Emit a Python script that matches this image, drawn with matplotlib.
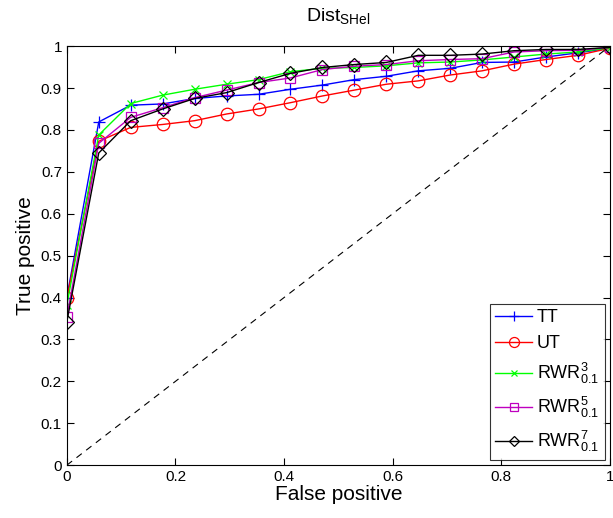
import numpy as np
import matplotlib
matplotlib.use('Agg')
import matplotlib.pyplot as plt

plt.rcParams['font.family'] = 'Liberation Sans'
plt.rcParams['mathtext.fontset'] = 'custom'
plt.rcParams['mathtext.rm'] = 'Liberation Sans'
plt.rcParams['mathtext.it'] = 'Liberation Sans'

fpr = np.arange(18) / 17.0

tt    = [0.400, 0.819, 0.859, 0.862, 0.875, 0.881, 0.885, 0.897, 0.907, 0.920,
         0.928, 0.941, 0.947, 0.961, 0.962, 0.974, 0.984, 0.995]
ut    = [0.398, 0.773, 0.806, 0.813, 0.822, 0.838, 0.850, 0.865, 0.881, 0.895,
         0.909, 0.917, 0.931, 0.941, 0.957, 0.968, 0.978, 0.995]
rwr3  = [0.382, 0.788, 0.863, 0.883, 0.897, 0.909, 0.920, 0.939, 0.947, 0.949,
         0.953, 0.960, 0.962, 0.967, 0.974, 0.981, 0.986, 0.996]
rwr5  = [0.354, 0.768, 0.830, 0.853, 0.877, 0.895, 0.913, 0.924, 0.944, 0.952,
         0.956, 0.965, 0.968, 0.970, 0.986, 0.989, 0.990, 0.997]
rwr7  = [0.342, 0.745, 0.822, 0.850, 0.875, 0.889, 0.913, 0.935, 0.949, 0.956,
         0.961, 0.978, 0.978, 0.981, 0.989, 0.992, 0.992, 0.997]

series = [tt, ut, rwr3, rwr5, rwr7]
labels = ['TT', 'UT', r'RWR$^{3}_{0.1}$', r'RWR$^{5}_{0.1}$', r'RWR$^{7}_{0.1}$']
colors = ['b', 'r', '#00ff00', 'm', 'k']
markers = ['+', 'o', 'x', 's', 'D']
msizes = [9, 9, 6, 7, 7]

fig = plt.figure(figsize=(6.13, 5.18), dpi=100)
ax = fig.add_axes([0.109, 0.102, 0.886, 0.809])

for y, lab, c, m, ms in zip(series, labels, colors, markers, msizes):
    ax.plot(fpr, y, color=c, marker=m, markersize=ms, markerfacecolor='none',
            markeredgecolor=c, markeredgewidth=0.9, linewidth=1, label=lab)
ax.plot([0, 1], [0, 1], 'k--', linewidth=0.8, dashes=(6, 5))

ax.set_xlim(0, 1)
ax.set_ylim(0, 1)
ax.set_xticks([0, 0.2, 0.4, 0.6, 0.8, 1])
ax.set_xticklabels(['0', '0.2', '0.4', '0.6', '0.8', '1'])
ax.set_yticks(np.arange(0, 1.01, 0.1))
ax.set_yticklabels(['0', '0.1', '0.2', '0.3', '0.4', '0.5', '0.6', '0.7', '0.8', '0.9', '1'])
ax.tick_params(direction='in', top=True, right=True, labelsize=11, length=5)
ax.set_xlabel('False positive', fontsize=15, labelpad=1)
ax.set_ylabel('True positive', fontsize=15, labelpad=4)
ax.set_title(r'Dist$_{\mathrm{SHel}}$', fontsize=14, pad=18)

leg = ax.legend(loc='lower right', fontsize=13, fancybox=False, edgecolor='k',
                handlelength=2.0, handletextpad=0.3, labelspacing=0.5,
                borderpad=0.3, borderaxespad=0.3, markerscale=0.8)
leg.get_frame().set_linewidth(0.8)

plt.savefig('out.png', dpi=100)
